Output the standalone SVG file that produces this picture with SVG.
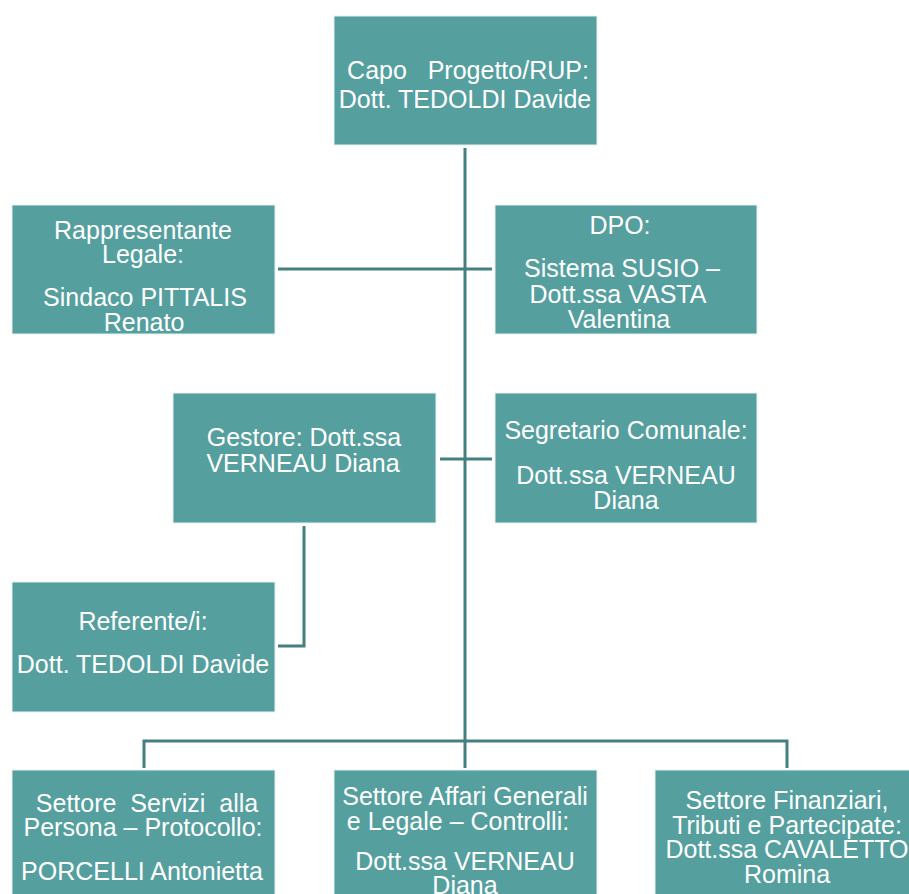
<svg xmlns="http://www.w3.org/2000/svg" width="909" height="894" viewBox="0 0 909 894">
<style>
.box{fill:#559f9f;stroke:#e6f0f0;stroke-width:1}
.t{font-family:"Liberation Sans",Arial,sans-serif;font-size:25px;fill:#ffffff;text-anchor:middle}
.c{fill:none;stroke:#44807f;stroke-width:3}
</style>
<rect width="909" height="894" fill="#ffffff"/>
<g id="connectors">
<path class="c" d="M465 148 V741"/>
<path class="c" d="M278 269 H492"/>
<path class="c" d="M440 459 H492"/>
<path class="c" d="M304 526 V646 H278"/>
<path class="c" d="M144 768 V741 H787 V768"/>
<path class="c" d="M465 741 V768"/>
</g>
<g id="capo">
<rect class="box" x="334" y="16" width="263" height="129"/>
<text class="t" x="468" y="79" xml:space="preserve">Capo   Progetto/RUP:</text>
<text class="t" x="465" y="108">Dott. TEDOLDI Davide</text>
</g>
<g id="rappresentante">
<rect class="box" x="12" y="205" width="263" height="129"/>
<text class="t" x="143" y="239">Rappresentante</text>
<text class="t" x="143" y="263">Legale:</text>
<text class="t" x="145" y="306">Sindaco PITTALIS</text>
<text class="t" x="144" y="331">Renato</text>
</g>
<g id="dpo">
<rect class="box" x="495" y="205" width="262" height="129"/>
<text class="t" x="620" y="234">DPO:</text>
<text class="t" x="622" y="277">Sistema SUSIO –</text>
<text class="t" x="618" y="303">Dott.ssa VASTA</text>
<text class="t" x="619" y="328">Valentina</text>
</g>
<g id="gestore">
<rect class="box" x="173" y="393" width="263" height="130"/>
<text class="t" x="304" y="446">Gestore: Dott.ssa</text>
<text class="t" x="303" y="472">VERNEAU Diana</text>
</g>
<g id="segretario">
<rect class="box" x="495" y="393" width="262" height="130"/>
<text class="t" x="626" y="439">Segretario Comunale:</text>
<text class="t" x="626" y="484">Dott.ssa VERNEAU</text>
<text class="t" x="626" y="509">Diana</text>
</g>
<g id="referente">
<rect class="box" x="12" y="582" width="263" height="130"/>
<text class="t" x="143" y="630">Referente/i:</text>
<text class="t" x="143" y="673">Dott. TEDOLDI Davide</text>
</g>
<g id="settore-servizi">
<rect class="box" x="12" y="770" width="263" height="140"/>
<text class="t" x="147" y="812" xml:space="preserve">Settore  Servizi  alla</text>
<text class="t" x="143" y="836">Persona – Protocollo:</text>
<text class="t" x="142" y="880">PORCELLI Antonietta</text>
</g>
<g id="settore-affari">
<rect class="box" x="334" y="770" width="263" height="140"/>
<text class="t" x="465" y="805">Settore Affari Generali</text>
<text class="t" x="458" y="830">e Legale – Controlli:</text>
<text class="t" x="465" y="870">Dott.ssa VERNEAU</text>
<text class="t" x="465" y="894">Diana</text>
</g>
<g id="settore-finanziari">
<rect class="box" x="655" y="770" width="262" height="140"/>
<text class="t" x="787" y="809">Settore Finanziari,</text>
<text class="t" x="787" y="834">Tributi e Partecipate:</text>
<text class="t" x="787" y="858">Dott.ssa CAVALETTO</text>
<text class="t" x="787" y="883">Romina</text>
</g>
</svg>
